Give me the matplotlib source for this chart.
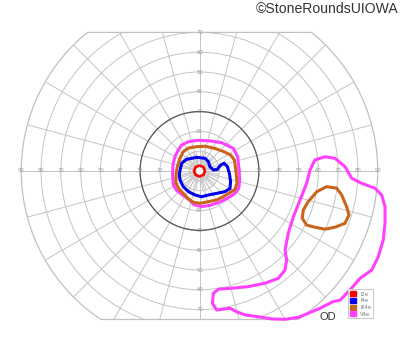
import numpy as np
import matplotlib
matplotlib.use("Agg")
import matplotlib.pyplot as plt
from matplotlib.patches import Polygon, Circle, Patch

# Goldmann visual field, right eye (degrees, x = temporal+, y = superior+)
i2e_x = [2.8, 2.0, 0.0, -2.0, -2.8, -2.0, 0.0, 2.0]
i2e_y = [0.0, 2.0, 2.8, 2.0, 0.0, -2.0, -2.8, -2.0]

i4e_x = [-9.85, -9.0, -6.5, -1.4, 2.8, 4.5, 5.3, 7.0, 9.0, 10.7, 12.4, 14.1, 15.1, 15.7,
         15.4, 12.9, 8.7, 4.5, 1.1, -2.3, -5.6, -8.2, -9.85, -10.2]
i4e_y = [0.2, 3.9, 5.9, 6.9, 6.4, 4.7, 2.2, 0.5, 0.8, 3.0, 3.9, 2.2, -1.2, -5.4,
         -8.8, -10.4, -11.3, -12.1, -13.0, -12.1, -10.4, -7.9, -4.5, -2.0]

iii4e_x = [-9.85, -8.2, -5.6, -1.4, 2.8, 7.8, 12.0, 15.7, 17.6, 18.1, 18.6, 18.9, 17.9,
           15.4, 12.0, 8.7, 4.5, 0.25, -3.1, -5.6, -7.7, -10.2, -11.9, -11.9, -11.2]
iii4e_y = [6.4, 9.8, 11.6, 12.3, 12.5, 11.4, 9.9, 8.1, 5.6, 2.2, -2.0, -6.2, -9.3,
           -10.9, -13.0, -14.6, -15.5, -16.3, -15.8, -14.1, -11.8, -9.3, -6.2, -2.0, 2.2]
# III4e temporal island
iii4e_isl_x = [64.2, 69.3, 71.8, 74.3, 75.5, 73.5, 68.4, 63.4, 58.3, 54.1, 51.9, 52.4, 54.9, 59.2]
iii4e_isl_y = [-7.9, -8.7, -12.1, -18.0, -22.2, -26.4, -28.4, -29.4, -28.4, -27.3, -23.9,
               -19.7, -15.5, -10.5]

v4e_x = [-9.0, -5.6, -0.6, 5.3, 11.2, 17.1, 19.3, 19.9, 20.3, 19.8, 17.6, 13.7, 9.5, 5.3,
         1.1, -2.8, -5.1, -8.5, -11.5, -13.2, -13.6, -13.4, -12.4, -10.7]
v4e_y = [13.1, 14.8, 15.5, 15.2, 14.3, 11.4, 7.2, 1.3, -4.5, -8.8, -11.6, -14.0, -16.0,
         -17.3, -18.0, -17.0, -14.6, -12.1, -9.9, -7.1, -2.0, 3.0, 7.2, 10.6]
# V4e temporal / inferior island
v4e_isl_x = [63.4, 68.4, 73.5, 76.9, 81.9, 88.6, 92.0, 93.7, 93.7, 92.8, 90.3, 87.0, 81.1,
             76.0, 71.0, 67.4, 60.9, 54.1, 49.9, 43.2, 36.5, 29.7, 23.0, 18.8, 15.4, 12.0,
             8.7, 6.5, 7.0, 9.5, 16.3, 24.6, 33.1, 39.8, 43.2, 44.0, 43.2, 44.8, 47.4,
             50.8, 54.1, 55.8, 58.3]
v4e_isl_y = [7.2, 6.4, 2.2, -3.7, -6.2, -8.7, -12.1, -18.0, -26.4, -34.8, -43.3, -50.0,
             -54.2, -60.1, -65.2, -66.0, -69.3, -72.2, -73.9, -74.9, -74.7, -73.6, -72.7,
             -71.1, -69.3, -69.8, -70.2, -66.8, -61.8, -59.7, -59.2, -58.4, -56.7, -54.2,
             -50.0, -44.9, -39.9, -31.5, -23.1, -14.6, -6.2, 0.5, 5.6]

legend_labels = ["I2e", "I4e", "III4e", "V4e"]
legend_colors = ["#ff0000", "#0000ee", "#c8651b", "#ff40ff"]

ring_labels_h = [20, 30, 40, 50, 60, 70, 80, 90]
ring_labels_v = [20, 30, 40, 50, 60, 70]

# grid geometry
rings = [5, 10, 20, 30, 40, 50, 60, 70, 80]
r_outer = 90
y_top, y_bot = 70, -75

s = 1.98  # pixels per degree
fig = plt.figure(figsize=(4, 3.52), dpi=100)
ax = fig.add_axes([0, 0, 1, 1])
ax.set_xlim(-199.5 / s, 200.5 / s)
ax.set_ylim(-181 / s, 171 / s)
ax.axis("off")

# chart outline: outer circle cut by top/bottom lines
t = np.linspace(0, 2 * np.pi, 721)
ox = r_outer * np.cos(t)
oy = np.clip(r_outer * np.sin(t), y_bot, y_top)
frame = Polygon(np.column_stack([ox, oy]), closed=True, fill=False,
                edgecolor="#c0c0c0", lw=0.9, zorder=1)
ax.add_patch(frame)

grid_col = "#c4c4c4"
for r in rings:
    c = Circle((0, 0), r, fill=False, edgecolor=grid_col, lw=0.7, zorder=1)
    ax.add_patch(c)
    c.set_clip_path(frame)
ax.add_patch(Circle((0, 0), 30, fill=False, edgecolor="#555555", lw=0.9, zorder=2))

for a in np.deg2rad(np.arange(0, 360, 15)):
    ln, = ax.plot([2 * np.cos(a), r_outer * np.cos(a)], [2 * np.sin(a), r_outer * np.sin(a)],
                  color=grid_col, lw=0.7, zorder=1)
    ln.set_clip_path(frame)
for a in np.deg2rad(np.arange(0, 360, 10)):
    ax.plot([2 * np.cos(a), 10 * np.cos(a)], [2 * np.sin(a), 10 * np.sin(a)],
            color=grid_col, lw=0.6, zorder=1)

lab_kw = dict(fontsize=3.8, color="#9a9a9a", ha="center", va="center", zorder=2)
for v in ring_labels_h:
    ax.text(v, 0.3, str(v), **lab_kw)
    ax.text(-v, 0.3, str(v), **lab_kw)
for v in ring_labels_v:
    ax.text(0, v, str(v), **lab_kw)
    ax.text(0, -v, str(v), **lab_kw)

# isopters
lw = 2.2
ax.fill(i2e_x, i2e_y, fill=False, edgecolor=legend_colors[0], lw=1.8, zorder=5)
ax.fill(i4e_x, i4e_y, fill=False, edgecolor=legend_colors[1], lw=lw, zorder=5)
ax.fill(iii4e_x, iii4e_y, fill=False, edgecolor=legend_colors[2], lw=lw, zorder=4)
ax.fill(iii4e_isl_x, iii4e_isl_y, fill=False, edgecolor=legend_colors[2], lw=lw, zorder=4)
ax.fill(v4e_x, v4e_y, fill=False, edgecolor=legend_colors[3], lw=lw, zorder=3)
ax.fill(v4e_isl_x, v4e_isl_y, fill=False, edgecolor=legend_colors[3], lw=lw, zorder=3)

handles = [Patch(facecolor=c, edgecolor=c) for c in legend_colors]
leg = ax.legend(handles, legend_labels, loc="lower left", bbox_to_anchor=(0.864, 0.088),
                bbox_transform=fig.transFigure, fontsize=3.8, handlelength=1.1,
                handleheight=1.1, handletextpad=0.8, labelspacing=0.25, borderpad=0.35,
                fancybox=False, framealpha=1)
leg.get_frame().set_edgecolor("#cccccc")
leg.get_frame().set_linewidth(0.8)
for txt in leg.get_texts():
    txt.set_color("#777777")

fig.text(0.82, 0.1, "OD", fontsize=8, color="#333333", ha="center", va="center",
         family="Liberation Sans")
fig.text(0.995, 0.975, "©StoneRoundsUIOWA", fontsize=10.1, color="#333333",
         ha="right", va="center", family="Liberation Sans")

plt.savefig("out.png", dpi=100)
plt.close()
